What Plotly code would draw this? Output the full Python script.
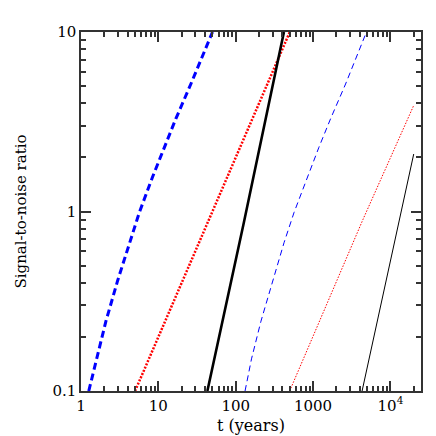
import plotly.graph_objects as go

# thick curves
blue_thick_t = [1.26, 1.58, 2.10, 2.98, 4.21, 5.68, 8.41, 11.9, 16.8, 26.3, 50.1]
blue_thick_snr = [0.1, 0.151, 0.245, 0.413, 0.67, 0.989, 1.556, 2.28, 3.28, 5.13, 10]
red_thick_t = [5.0, 50, 500]
red_thick_snr = [0.1, 1.0, 10]
black_thick_t = [43, 126, 420]
black_thick_snr = [0.1, 0.85, 10]

# thin curves
blue_thin_t = [132, 160, 212, 300, 421, 568, 841, 1190, 1680, 2630, 4900]
blue_thin_snr = [0.1, 0.151, 0.245, 0.413, 0.67, 0.989, 1.556, 2.28, 3.28, 5.13, 10]
red_thin_t = [498, 4400, 20000]
red_thin_snr = [0.1, 0.9, 3.9]
black_thin_t = [4300, 20000]
black_thin_snr = [0.1, 2.09]

x_ticks = [1, 10, 100, 1000, 10000]
x_labels = ['1', '10', '100', '1000', '10<sup>4</sup>']
y_ticks = [0.1, 1, 10]
y_labels = ['0.1', '1', '10']

X_RANGE = [0, 4.395]
Y_RANGE = [-1, 1]
FONT = 'DejaVu Serif'
AX_COLOR = 'rgb(51,51,51)'

fig = go.Figure()
curves = [
    (blue_thick_t, blue_thick_snr, dict(color='#0000ff', width=3, dash='7px,4px')),
    (red_thick_t, red_thick_snr, dict(color='#ff0000', width=2.5, dash='2px,1.5px')),
    (black_thick_t, black_thick_snr, dict(color='black', width=2.6)),
    (blue_thin_t, blue_thin_snr, dict(color='#0000ff', width=1, dash='6px,4px')),
    (red_thin_t, red_thin_snr, dict(color='#ff0000', width=1, dash='1.5px,1.5px')),
    (black_thin_t, black_thin_snr, dict(color='black', width=1)),
]
for t, snr, line in curves:
    fig.add_trace(go.Scatter(x=t, y=snr, mode='lines', line=line, showlegend=False))

# invisible points so the tick-only axes get drawn
for n in (2, 3, 4, 5):
    fig.add_trace(go.Scatter(x=[1], y=[1], xaxis=f'x{n}', yaxis=f'y{n}', showlegend=False,
                             mode='markers', marker=dict(opacity=0), hoverinfo='skip'))


def tick_axis(nticks, length, side, anchor, overlay):
    # tick-only log axis laid over the main one; auto ticks (decades or every digit)
    return dict(type='log', range=X_RANGE if overlay == 'x' else Y_RANGE,
                tickmode='auto', nticks=nticks, ticks='inside', ticklen=length,
                tickwidth=1.5, tickcolor=AX_COLOR, showticklabels=False,
                showgrid=False, zeroline=False, showline=False,
                overlaying=overlay, anchor=anchor, side=side)


main = dict(
    type='log', showgrid=False, zeroline=False,
    showline=True, linecolor=AX_COLOR, linewidth=1.5, mirror=True,
    ticks='inside', ticklen=10, tickwidth=1.5, tickcolor=AX_COLOR,
    tickfont=dict(family=FONT, size=15, color='black'),
)

fig.update_layout(
    template='simple_white',
    width=436, height=436,
    margin=dict(l=73, r=23, t=24, b=47),
    xaxis=dict(range=X_RANGE, tickmode='array', tickvals=x_ticks, ticktext=x_labels,
               title=dict(text='t (years)', font=dict(family=FONT, size=16, color='black'), standoff=6),
               **main),
    yaxis=dict(range=Y_RANGE, tickmode='array', tickvals=y_ticks, ticktext=y_labels,
               title=dict(text='Signal-to-noise ratio', font=dict(family=FONT, size=15, color='black'), standoff=22),
               **main),
    # major ticks: bottom/left and top/right
    xaxis2=tick_axis(5, 10, 'bottom', 'y2', 'x'),
    yaxis2=tick_axis(2, 10, 'left', 'x2', 'y'),
    xaxis3=tick_axis(5, 10, 'top', 'y3', 'x'),
    yaxis3=tick_axis(2, 10, 'right', 'x3', 'y'),
    # minor ticks
    xaxis4=tick_axis(40, 5, 'bottom', 'y4', 'x'),
    yaxis4=tick_axis(20, 5, 'left', 'x4', 'y'),
    xaxis5=tick_axis(40, 5, 'top', 'y5', 'x'),
    yaxis5=tick_axis(20, 5, 'right', 'x5', 'y'),
)

fig.write_html('out.html')
